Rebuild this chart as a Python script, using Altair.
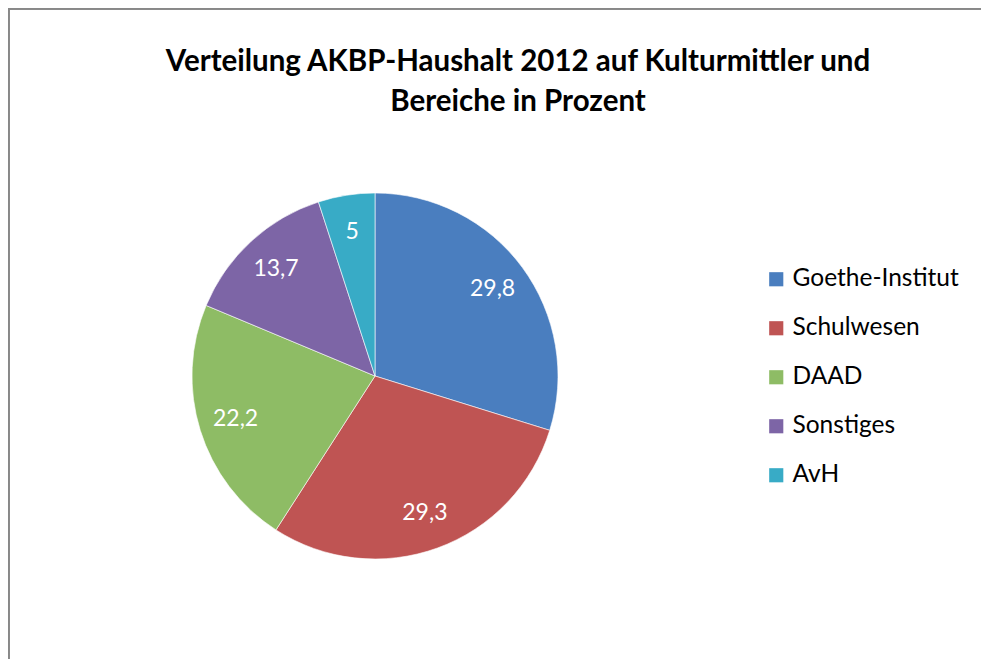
import altair as alt
import pandas as pd

categories = ["Goethe-Institut", "Schulwesen", "DAAD", "Sonstiges", "AvH"]
values = [29.8, 29.3, 22.2, 13.7, 5]
colors = ["#4A7EBF", "#BF5453", "#8EBC65", "#7D65A6", "#38ABC6"]
title_lines = ["Verteilung AKBP-Haushalt 2012 auf Kulturmittler und", "Bereiche in Prozent"]

df = pd.DataFrame({"cat": categories, "value": values, "order": list(range(len(values)))})
tdf = pd.DataFrame({"line": title_lines, "row": [0, 1]})

FONT = "Lato"
W, H = 973, 651
CX, CY, R = 367, 368, 183

base = alt.Chart(df).encode(
    theta=alt.Theta("value:Q", stack=True),
    order=alt.Order("order:Q"),
)

pie = base.mark_arc(radius=R, stroke="#ffffff", strokeWidth=0.6).encode(
    x=alt.value(CX), y=alt.value(CY),
    color=alt.Color(
        "cat:N",
        scale=alt.Scale(domain=categories, range=colors),
        sort=categories,
        legend=alt.Legend(
            title=None, orient="none", legendX=756, legendY=259,
            symbolType="square", symbolSize=200, symbolStrokeWidth=0,
            labelFont=FONT, labelFontSize=24.5, labelColor="#000000",
            rowPadding=24, labelOffset=4, symbolOpacity=1, labelLimit=400,
        ),
    ),
)

labels = base.mark_text(radius=146, font=FONT, fontSize=23, color="#ffffff").transform_calculate(
    lbl="replace(format(datum.value, '.1~f'), '.', ',')"
).encode(
    x=alt.value(CX), y=alt.value(CY),
    text="lbl:N",
)

title = alt.Chart(tdf).mark_text(
    font=FONT, fontSize=29.5, fontWeight="bold", color="#000000", align="center", baseline="middle"
).encode(
    x=alt.value(510),
    y=alt.Y("row:Q", scale=alt.Scale(domain=[0, 1], range=[54, 94]), axis=None),
    text="line:N",
)

border_left = alt.Chart(df).mark_rule(color="#888888", strokeWidth=2).encode(
    x=alt.value(0.5), y=alt.value(0), y2=alt.value(H)
)
border_top = alt.Chart(df).mark_rule(color="#888888", strokeWidth=2).encode(
    x=alt.value(0), x2=alt.value(W), y=alt.value(0.5)
)

chart = alt.layer(pie, labels, title, border_left, border_top).properties(
    width=W, height=H,
    autosize=alt.AutoSizeParams(type="none"),
    padding=0,
).configure_view(strokeWidth=0, fill="#ffffff")

chart.save("out.html", embed_options={"renderer": "svg", "actions": False})
